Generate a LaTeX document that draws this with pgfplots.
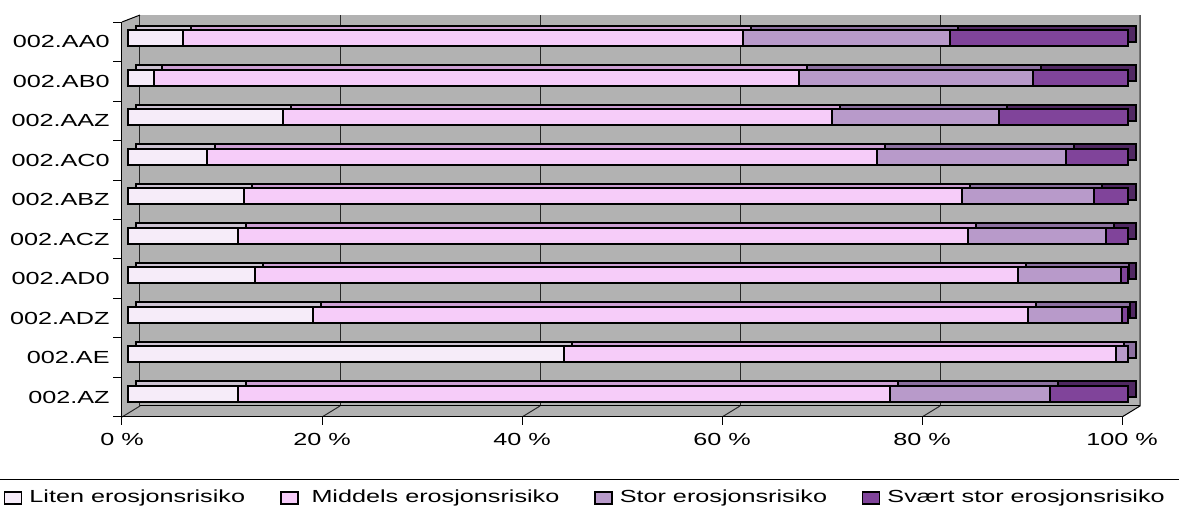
\documentclass[border=0pt]{standalone}
\usepackage{fontspec}
\setmainfont{Liberation Sans}[FakeStretch=1.44]
\usepackage{pgfplots}
\usepackage{pgfplotstable}
\pgfplotsset{compat=1.18}

\definecolor{wallgray}{RGB}{178,178,178}
\definecolor{gridc}{RGB}{40,40,40}
\definecolor{litenF}{RGB}{246,236,249}
\definecolor{middelsF}{RGB}{246,204,249}
\definecolor{storF}{RGB}{184,154,202}
\definecolor{svaertF}{RGB}{128,68,154}
\definecolor{litenT}{RGB}{205,195,210}
\definecolor{middelsT}{RGB}{205,160,212}
\definecolor{storT}{RGB}{140,112,160}
\definecolor{svaertT}{RGB}{80,40,98}

% share of area (%) per erosion risk class, bottom row (002.AZ) first
\pgfplotstableread{
y liten middels stor svaert
0 11.0 65.2 16.0 7.8
1 43.6 55.2 1.2 0.0
2 18.5 71.5 9.4 0.6
3 12.7 76.3 10.3 0.7
4 11.0 73.0 13.8 2.2
5 11.6 71.8 13.2 3.4
6 7.9 67.0 18.9 6.2
7 15.5 54.9 16.7 12.9
8 2.6 64.5 23.4 9.5
9 5.5 56.0 20.7 17.8
}\erosion

\newcommand{\chartfont}{\fontsize{8.75}{10.5}\selectfont}

\pgfplotsset{
  barframe/.style={
    scale only axis, width=500pt, height=197.5pt,
    xmin=0, xmax=100, ymin=-0.5, ymax=9.5,
    hide axis, clip=false,
    xbar stacked, bar width=8pt,
    every axis plot/.append style={draw=black, line width=0.9pt},
  },
}

\begin{document}
\begin{tikzpicture}[font=\chartfont]
\useasboundingbox (0,0) rectangle (589.5pt,254pt);

% walls, floor, ticks and labels
\begin{axis}[
  at={(61pt,45.5pt)}, anchor=south west,
  scale only axis, width=500pt, height=197.5pt,
  xmin=0, xmax=100, ymin=-0.5, ymax=9.5,
  clip=false,
  axis x line*=bottom, axis y line*=left,
  axis line style={black, line width=0.5pt},
  major tick length=0pt,
  xtick={0,20,40,60,80,100},
  xticklabels={0 \%,20 \%,40 \%,60 \%,80 \%,100 \%},
  ytick={0,1,2,3,4,5,6,7,8,9},
  yticklabels={002.AZ,002.AE,002.ADZ,002.AD0,002.ACZ,002.ABZ,002.AC0,002.AAZ,002.AB0,002.AA0},
  xticklabel style={font=\chartfont, inner sep=0pt, anchor=north, yshift=-8pt},
  yticklabel style={font=\chartfont, inner sep=0pt, anchor=east, xshift=-6pt},
]
% back wall, floor and side wall
\fill[wallgray] (axis cs:1.8,-0.2215) rectangle (axis cs:101.8,9.677);
\fill[wallgray] (axis cs:0,-0.5) -- (axis cs:100,-0.5) -- (axis cs:101.8,-0.2215)
   -- (axis cs:1.8,-0.2215) -- cycle;
\fill[wallgray] (axis cs:0,-0.5) -- (axis cs:0,9.5) -- (axis cs:1.8,9.677)
   -- (axis cs:1.8,-0.2215) -- cycle;
% gridlines on the back wall and their traces on the floor
\pgfplotsinvokeforeach{1.8,21.8,41.8,61.8,81.8}{
  \draw[gridc, line width=0.5pt] (axis cs:#1,-0.2215) -- (axis cs:#1,9.677);
}
\pgfplotsinvokeforeach{0,20,40,60,80}{
  \draw[gridc, line width=0.5pt] (axis cs:#1,-0.5) -- ++(9pt,5.5pt);
}
\draw[black, line width=0.5pt] (axis cs:1.8,-0.2215) -- (axis cs:101.8,-0.2215);
\draw[black, line width=0.5pt] (axis cs:101.8,9.677) -- (axis cs:101.8,-0.2215) -- (axis cs:100,-0.5);
\draw[black, line width=0.5pt] (axis cs:0,9.5) -- (axis cs:1.8,9.677);
% front edges
\draw[black, line width=0.5pt] (axis cs:0,9.5) -- (axis cs:0,-0.5) -- (axis cs:100,-0.5);
% category and value ticks
\pgfplotsinvokeforeach{-0.5,0.5,1.5,2.5,3.5,4.5,5.5,6.5,7.5,8.5,9.5}{
  \draw[black, line width=0.5pt] (axis cs:0,#1) -- ++(-4.5pt,0pt);
}
\pgfplotsinvokeforeach{0,20,40,60,80,100}{
  \draw[black, line width=0.5pt] (axis cs:#1,-0.5) -- ++(0pt,-4pt);
}
% rule above the legend
\draw[black, line width=0.5pt] (rel axis cs:-0.122,-0.1595) -- (rel axis cs:1.057,-0.1595);
\end{axis}

% depth of the bars (top and end faces)
\begin{axis}[barframe, at={(68pt,49.5pt)}, anchor=south west]
\addplot[fill=litenT] table[x=liten, y=y]{\erosion};
\addplot[fill=middelsT] table[x=middels, y=y]{\erosion};
\addplot[fill=storT] table[x=stor, y=y]{\erosion};
\addplot[fill=svaertT] table[x=svaert, y=y]{\erosion};
\end{axis}

% front faces of the bars and the legend
\begin{axis}[barframe, at={(64pt,47.25pt)}, anchor=south west,
  legend columns=4,
  legend cell align=left,
  legend image code/.code={\draw[#1, line width=0.7pt] (0pt,-3pt) rectangle (8.5pt,3pt);},
  legend style={draw=none, fill=none, inner sep=0pt, outer sep=0pt,
    at={(-0.124,-0.2139)}, anchor=west, font=\chartfont,
    nodes={inner sep=0pt},
    /tikz/every odd column/.append style={column sep=3.5pt},
    /tikz/every even column/.append style={column sep=17.5pt}},
]
\addplot[fill=litenF] table[x=liten, y=y]{\erosion};
\addlegendentry{Liten erosjonsrisiko}
\addplot[fill=middelsF] table[x=middels, y=y]{\erosion};
\addlegendentry{\hspace{3pt}Middels erosjonsrisiko}
\addplot[fill=storF] table[x=stor, y=y]{\erosion};
\addlegendentry{Stor erosjonsrisiko}
\addplot[fill=svaertF] table[x=svaert, y=y]{\erosion};
\addlegendentry{Svært stor erosjonsrisiko}
\end{axis}
\end{tikzpicture}
\end{document}
